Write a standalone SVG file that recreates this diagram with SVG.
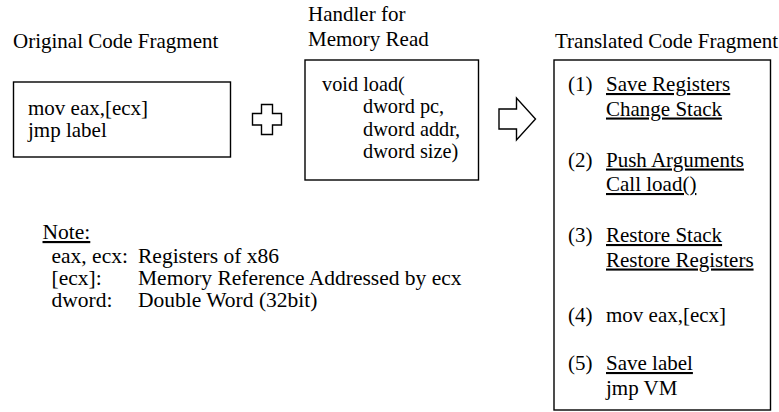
<svg xmlns="http://www.w3.org/2000/svg" width="779" height="412" viewBox="0 0 779 412" font-family="Liberation Serif, serif">
  <style>
    text { font-size: 21px; fill: #000; }
    .note { font-size: 21.5px; }
    .code { font-size: 20.3px; }
    .u { text-decoration: underline; }
    .box { fill: #fff; stroke: #000; stroke-width: 1.4; }
    .sym { fill: #fff; stroke: #000; stroke-width: 1.4; stroke-linejoin: miter; }
  </style>
  <rect width="779" height="412" fill="#fff"/>

  <!-- original code fragment -->
  <g id="original">
    <text x="13" y="48">Original Code Fragment</text>
    <rect class="box" x="13.5" y="82" width="217" height="75"/>
    <text x="28" y="115">mov eax,[ecx]</text>
    <text x="28" y="137">jmp label</text>
  </g>

  <!-- memory read handler -->
  <g id="handler">
    <text x="308" y="21">Handler for</text>
    <text x="308" y="46">Memory Read</text>
    <rect class="box" x="305" y="60" width="173.5" height="120"/>
    <text class="code" x="322" y="90.5">void load(</text>
    <text class="code" x="363" y="113">dword pc,</text>
    <text class="code" x="363" y="135.5">dword addr,</text>
    <text class="code" x="363" y="158">dword size)</text>
  </g>

  <!-- combine / translate symbols -->
  <g id="connectors">
    <path id="plus" class="sym" d="M261.5,104.5 H272.5 V113.5 H281.5 V125 H272.5 V134.5 H261.5 V125 H252.5 V113.5 H261.5 Z"/>
    <path id="arrow" class="sym" d="M499,109 H516.5 V98 L535.5,119 L516.5,140 V129 H499 Z"/>
  </g>

  <!-- translated code fragment -->
  <g id="translated">
    <text x="555" y="48">Translated Code Fragment</text>
    <rect class="box" x="554" y="60" width="216.5" height="350"/>
    <text x="568" y="91">(1)</text>
    <text class="u" x="606" y="91">Save Registers</text>
    <text class="u" x="606" y="115.5">Change Stack</text>
    <text x="568" y="166.5">(2)</text>
    <text class="u" x="606" y="166.5">Push Arguments</text>
    <text class="u" x="606" y="191">Call load()</text>
    <text x="568" y="242">(3)</text>
    <text class="u" x="606" y="242">Restore Stack</text>
    <text class="u" x="606" y="266.5">Restore Registers</text>
    <text x="568" y="321.5">(4)</text>
    <text x="606" y="321.5">mov eax,[ecx]</text>
    <text x="568" y="370">(5)</text>
    <text class="u" x="606" y="370">Save label</text>
    <text x="606" y="395">jmp VM</text>
  </g>

  <!-- legend -->
  <g id="note">
    <text class="note u" x="42.5" y="239">Note:</text>
    <text class="note" x="51.5" y="263">eax, ecx:</text>
    <text class="note" x="138" y="263">Registers of x86</text>
    <text class="note" x="51.5" y="285">[ecx]:</text>
    <text class="note" x="138" y="285">Memory Reference Addressed by ecx</text>
    <text class="note" x="51.5" y="307">dword:</text>
    <text class="note" x="138" y="307">Double Word (32bit)</text>
  </g>
</svg>
